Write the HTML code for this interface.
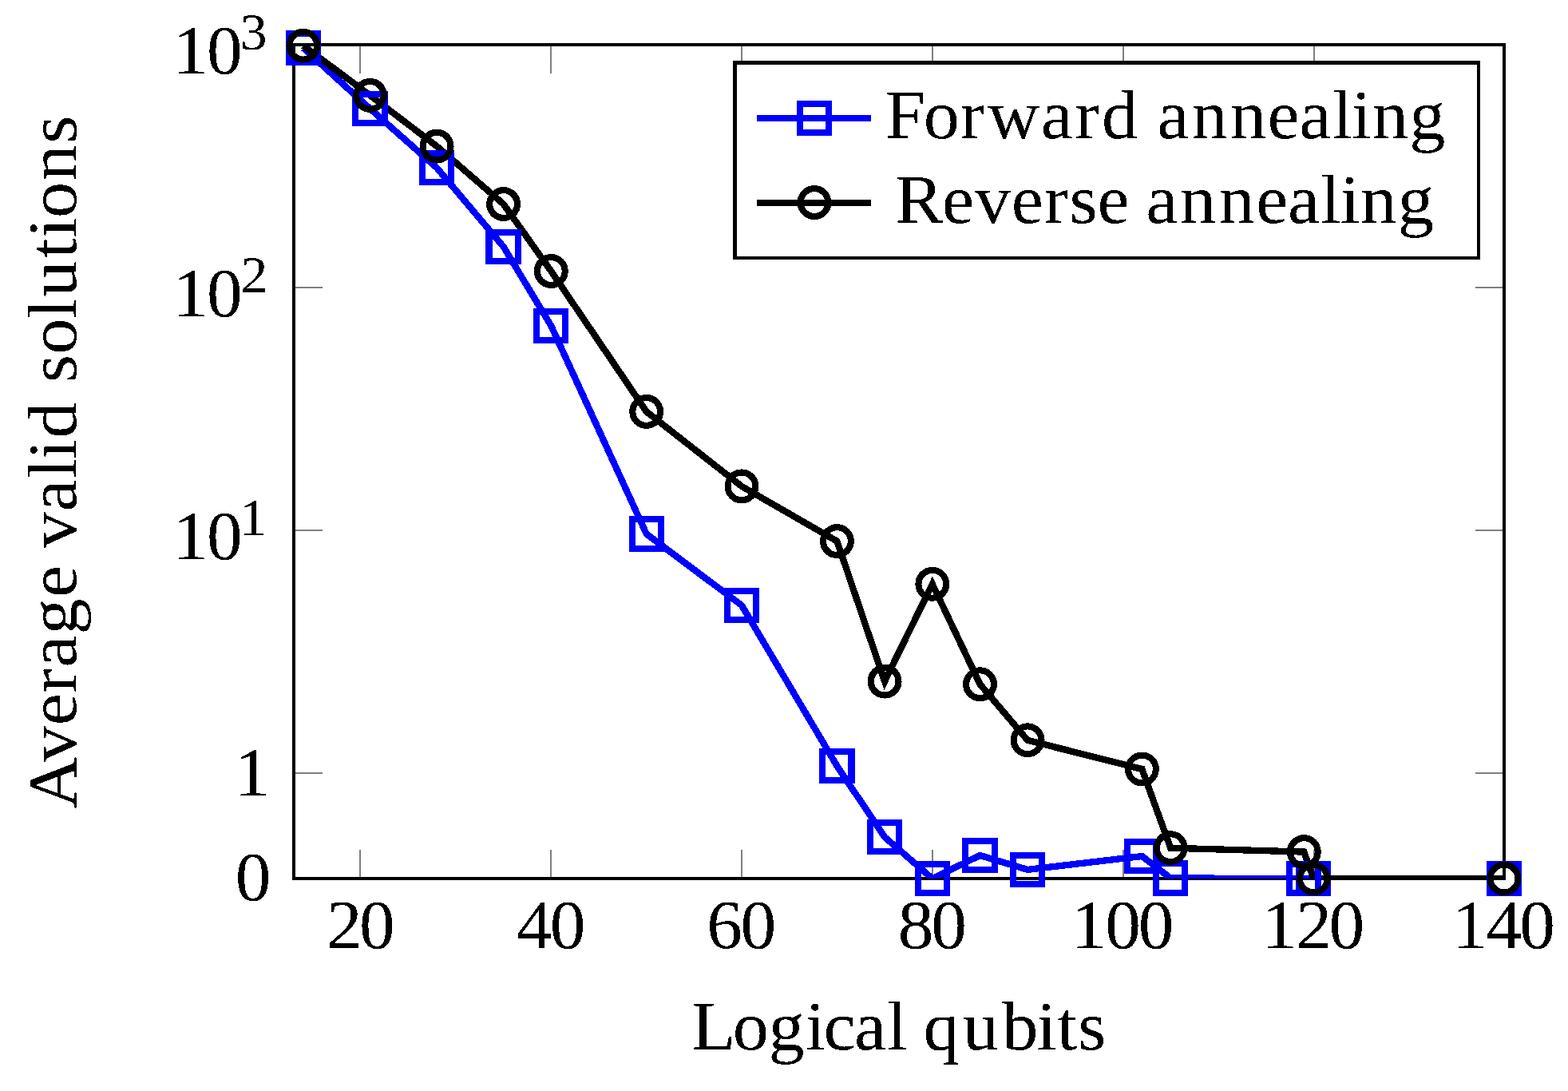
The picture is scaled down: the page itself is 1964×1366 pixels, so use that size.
<!DOCTYPE html>
<html lang="en">
<head>
<meta charset="utf-8">
<title>Average valid solutions vs logical qubits</title>
<style>
html,body{margin:0;padding:0;background:#fff;}
body{width:1964px;height:1366px;overflow:hidden;}
svg{display:block;}
text{font-family:"Liberation Serif","DejaVu Serif",serif;fill:#000;}
.ax{stroke:#000;stroke-width:4;fill:none;}
.tk{stroke:#7f7f7f;stroke-width:2;fill:none;}
.ln{fill:none;stroke-width:8.3;stroke-linejoin:miter;stroke-miterlimit:10;}
.mk{fill:none;stroke-width:8.1;}
</style>
</head>
<body>
<svg width="1964" height="1366" viewBox="0 0 1964 1366" shape-rendering="crispEdges">
<defs><filter id="bw" filterUnits="userSpaceOnUse" x="0" y="0" width="1964" height="1366" color-interpolation-filters="sRGB"><feComponentTransfer><feFuncA type="discrete" tableValues="0 0 1 1"/></feComponentTransfer></filter><clipPath id="c"><rect x="368" y="56" width="1516" height="1044"/></clipPath></defs>
<rect width="1964" height="1366" fill="#fff"/>

<g fill="#7f7f7f">
<rect x="450" y="1064" width="2" height="36"/><rect x="450" y="56" width="2" height="36"/>
<rect x="689" y="1064" width="2" height="36"/><rect x="689" y="56" width="2" height="36"/>
<rect x="928" y="1064" width="2" height="36"/><rect x="928" y="56" width="2" height="36"/>
<rect x="1167" y="1064" width="2" height="36"/><rect x="1167" y="56" width="2" height="36"/>
<rect x="1406" y="1064" width="2" height="36"/><rect x="1406" y="56" width="2" height="36"/>
<rect x="1645" y="1064" width="2" height="36"/><rect x="1645" y="56" width="2" height="36"/>
<rect x="368" y="359" width="36" height="2"/><rect x="1848" y="359" width="36" height="2"/>
<rect x="368" y="663" width="36" height="2"/><rect x="1848" y="663" width="36" height="2"/>
<rect x="368" y="967" width="36" height="2"/><rect x="1848" y="967" width="36" height="2"/>
</g>
<rect class="ax" x="368" y="56" width="1516" height="1044"/>
<g clip-path="url(#c)">
<polyline class="ln" stroke="#0000ff" points="379.9,60.1 463.5,136.1 547.1,210.1 630.6,308.9 690.3,408.0 809.7,668.5 929.0,757.9 1048.4,959.0 1108.1,1048.1 1167.8,1100.0 1227.5,1071.0 1287.1,1088.9 1430.4,1072.0 1466.2,1099.5 1633.3,1100.0 1645.3,1100.0 1884.0,1100.0"/>
<polyline class="ln" stroke="#000" points="379.9,57.2 463.5,119.4 547.1,183.1 630.6,255.5 690.3,339.5 809.7,515.4 929.0,608.9 1048.4,677.6 1108.1,853.1 1167.8,731.3 1227.5,856.7 1287.1,926.8 1430.4,963.0 1466.2,1061.7 1633.3,1066.6 1645.3,1100.0 1884.0,1100.0"/>
</g>
<g class="mk" stroke="#0000ff">
<rect x="361.8" y="42.0" width="36.2" height="36.2"/>
<rect x="445.4" y="118.0" width="36.2" height="36.2"/>
<rect x="529.0" y="192.0" width="36.2" height="36.2"/>
<rect x="612.5" y="290.8" width="36.2" height="36.2"/>
<rect x="672.2" y="389.9" width="36.2" height="36.2"/>
<rect x="791.6" y="650.4" width="36.2" height="36.2"/>
<rect x="910.9" y="739.8" width="36.2" height="36.2"/>
<rect x="1030.3" y="940.9" width="36.2" height="36.2"/>
<rect x="1090.0" y="1030.0" width="36.2" height="36.2"/>
<rect x="1149.7" y="1081.9" width="36.2" height="36.2"/>
<rect x="1209.4" y="1052.9" width="36.2" height="36.2"/>
<rect x="1269.0" y="1070.8" width="36.2" height="36.2"/>
<rect x="1412.3" y="1053.9" width="36.2" height="36.2"/>
<rect x="1448.1" y="1081.4" width="36.2" height="36.2"/>
<rect x="1615.2" y="1081.9" width="36.2" height="36.2"/>
<rect x="1627.2" y="1081.9" width="36.2" height="36.2"/>
<rect x="1865.9" y="1081.9" width="36.2" height="36.2"/>
</g>
<g class="mk" stroke="#000">
<circle cx="379.9" cy="57.2" r="17.4"/>
<circle cx="463.5" cy="119.4" r="17.4"/>
<circle cx="547.1" cy="183.1" r="17.4"/>
<circle cx="630.6" cy="255.5" r="17.4"/>
<circle cx="690.3" cy="339.5" r="17.4"/>
<circle cx="809.7" cy="515.4" r="17.4"/>
<circle cx="929.0" cy="608.9" r="17.4"/>
<circle cx="1048.4" cy="677.6" r="17.4"/>
<circle cx="1108.1" cy="853.1" r="17.4"/>
<circle cx="1167.8" cy="731.3" r="17.4"/>
<circle cx="1227.5" cy="856.7" r="17.4"/>
<circle cx="1287.1" cy="926.8" r="17.4"/>
<circle cx="1430.4" cy="963.0" r="17.4"/>
<circle cx="1466.2" cy="1061.7" r="17.4"/>
<circle cx="1633.3" cy="1066.6" r="17.4"/>
<circle cx="1645.3" cy="1100.0" r="17.4"/>
<circle cx="1884.0" cy="1100.0" r="17.4"/>
</g>
<rect x="920.4" y="78.4" width="931.6" height="244.6" fill="#fff" stroke="#000" stroke-width="4.4"/>
<path class="ln" stroke="#0000ff" d="M948 148H1091"/>
<rect class="mk" stroke="#0000ff" x="1001.9" y="129.9" width="36.2" height="36.2"/>
<path class="ln" stroke="#000" d="M948 254H1091"/>
<circle class="mk" stroke="#000" cx="1020" cy="253.6" r="17.4"/>
<g filter="url(#bw)">
<text font-size="86.0" transform="scale(1.05 1)" x="1056.04 1101.70 1145.60 1178.08 1241.72 1282.31 1314.35 1361.04 1380.56 1421.51 1467.53 1512.03 1550.00 1589.33 1612.26 1636.97 1681.26" y="172.7">Forward annealing</text>
<text font-size="86.0" transform="scale(1.05 1)" x="1067.97 1123.89 1162.94 1206.44 1245.46 1275.70 1309.07 1347.28 1366.80 1407.75 1453.77 1498.27 1536.24 1575.58 1598.50 1623.21 1667.50" y="278.7">Reverse annealing</text>
<text font-size="86" transform="scale(1.04 1)" x="393.22 432.65" y="1187">20</text>
<text font-size="86" transform="scale(1.04 1)" x="622.12 662.21" y="1187">40</text>
<text font-size="86" transform="scale(1.04 1)" x="851.28 891.76" y="1187">60</text>
<text font-size="86" transform="scale(1.04 1)" x="1081.41 1121.32" y="1187">80</text>
<text font-size="86" transform="scale(1.04 1)" x="1289.81 1330.92 1370.84" y="1187">100</text>
<text font-size="86" transform="scale(1.04 1)" x="1519.37 1560.96 1600.39" y="1187">120</text>
<text font-size="86" transform="scale(1.04 1)" x="1748.93 1789.87 1829.95" y="1187">140</text>
<text font-size="86" transform="scale(1.04 1)" x="208.03 249.14" y="92">10</text>
<text font-size="65" transform="scale(1.04 1)" x="289.23" y="62">3</text>
<text font-size="86" transform="scale(1.04 1)" x="208.03 249.14" y="396">10</text>
<text font-size="65" transform="scale(1.04 1)" x="289.88" y="366">2</text>
<text font-size="86" transform="scale(1.04 1)" x="208.03 249.14" y="700">10</text>
<text font-size="65" transform="scale(1.04 1)" x="288.61" y="670">1</text>
<text font-size="86" transform="scale(1.04 1)" x="282.16" y="996.5">1</text>
<text font-size="86" transform="scale(1.04 1)" x="283.36" y="1127.5">0</text>
<text font-size="86.0" transform="scale(1.05 1)" x="824.97 874.14 916.67 960.66 982.34 1019.05 1058.39 1081.84 1101.47 1148.39 1195.56 1236.76 1261.06 1285.89" y="1314">Logical qubits</text>
<text font-size="86.0" transform="translate(95.2 578.3) rotate(-90) scale(1.05 1)" x="-413.80 -357.85 -314.35 -275.33 -245.15 -205.92 -161.75 -123.54 -102.94 -59.34 -20.01 2.91 28.07 74.76 94.34 128.13 170.78 196.73 242.68 267.15 290.77 335.03 379.69" y="0">Average valid solutions</text>
</g>
</svg>
</body>
</html>
